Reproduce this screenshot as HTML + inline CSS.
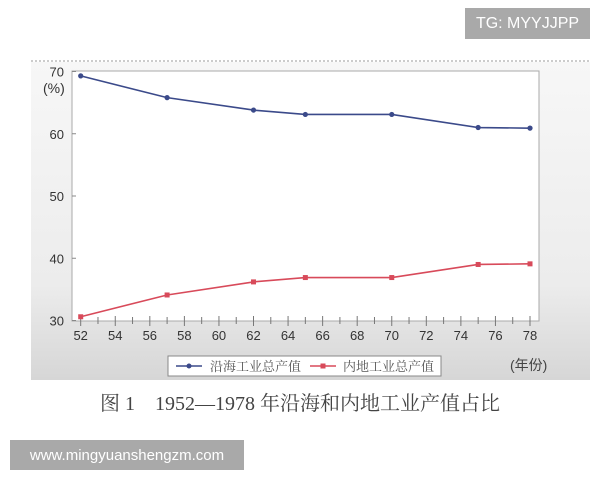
<!DOCTYPE html>
<html><head><meta charset="utf-8">
<style>
body{margin:0;width:600px;height:480px;background:#fff;position:relative;overflow:hidden;font-family:"Liberation Sans","Noto Sans CJK SC",sans-serif}
.wm{position:absolute;background:#a9a9a9;color:#fff;font-size:16px;display:flex;align-items:center;justify-content:center}
</style></head><body>
<div class="wm" style="left:465px;top:8px;width:125px;height:31px;">TG: MYYJJPP</div>
<svg width="600" height="480" style="position:absolute;left:0;top:0">
<defs><linearGradient id="bg" x1="0" y1="0" x2="0" y2="1"><stop offset="0" stop-color="#f7f7f7"/><stop offset="0.7" stop-color="#ececec"/><stop offset="1" stop-color="#d6d6d6"/></linearGradient></defs>
<rect x="31" y="62" width="559" height="318" fill="url(#bg)"/>
<line x1="31" y1="61" x2="590" y2="61" stroke="#999" stroke-dasharray="2,2"/>
<rect x="72" y="71" width="467" height="250" fill="#fff" stroke="#aaa"/>
<g id="axes"></g><g id="series"></g>
<g>
<rect x="168" y="356" width="273" height="20" fill="#fff" stroke="#888"/>
<line x1="176" y1="366" x2="202" y2="366" stroke="#3b4a8a" stroke-width="1.5"/><circle cx="189" cy="366" r="2.5" fill="#3b4a8a"/>
<text x="210" y="371" font-size="13" fill="#555" font-family="Liberation Serif,'Noto Serif CJK SC',serif">沿海工业总产值</text>
<line x1="310" y1="366" x2="336" y2="366" stroke="#d84a5a" stroke-width="1.5"/><rect x="320.5" y="363.5" width="5" height="5" fill="#d84a5a"/>
<text x="343" y="371" font-size="13" fill="#555" font-family="Liberation Serif,'Noto Serif CJK SC',serif">内地工业总产值</text>
</g>
<text x="510" y="370" font-size="14" fill="#444">(年份)</text>
<text x="43" y="93" font-size="14" fill="#333">(%)</text>
<text x="300" y="410" text-anchor="middle" font-size="20" fill="#444" font-family="Liberation Serif,'Noto Serif CJK SC',serif">图 1　1952—1978 年沿海和内地工业产值占比</text>
</svg>
<div class="wm" style="left:10px;top:440px;width:234px;height:30px;font-size:15px">www.mingyuanshengzm.com</div>
<script>
const years=[52,57,62,65,70,75,78];
const coastal=[69.3,65.8,63.8,63.1,63.1,61.0,60.9];
const inland=[30.6,34.1,36.2,36.9,36.9,39.0,39.1];
const yTicks=[30,40,50,60,70];
const xTicks=[52,54,56,58,60,62,64,66,68,70,72,74,76,78];
const NS="http://www.w3.org/2000/svg";
const X=v=>80.7+(v-52)*(530-80.7)/26;
const Y=v=>320.5-(v-30)*(320.5-71.5)/40;
function mk(t,a,p){const e=document.createElementNS(NS,t);for(const k in a)e.setAttribute(k,a[k]);p.appendChild(e);return e;}
const ax=document.getElementById('axes');
yTicks.forEach(v=>{
 const t=mk('text',{x:64,y:Y(v)+5,'text-anchor':'end','font-size':13,fill:'#333'},ax);t.textContent=v;
 
 
 mk('line',{x1:72,x2:76,y1:Y(v),y2:Y(v),stroke:'#888'},ax);
});
for(let yr=52;yr<=78;yr++){mk('line',{x1:X(yr),x2:X(yr),y1:yr%2?317:316,y2:yr%2?324:326,stroke:'#777'},ax);}
xTicks.forEach(v=>{
 const t=mk('text',{x:X(v),y:340,'text-anchor':'middle','font-size':13,fill:'#333'},ax);t.textContent=v;
 
 
});
const sg=document.getElementById('series');
function draw(vals,color,name,sq){
 const p=mk('polyline',{points:vals.map((v,i)=>X(years[i])+','+Y(v)).join(' '),fill:'none',stroke:color,'stroke-width':1.6},sg);
 
 
 vals.forEach((v,i)=>{
  const m=sq?mk('rect',{x:X(years[i])-2.5,y:Y(v)-2.5,width:5,height:5,fill:color},sg):mk('circle',{cx:X(years[i]),cy:Y(v),r:2.6,fill:color},sg);
  
  
 });
}
draw(coastal,'#3b4a8a','coastal',false);
draw(inland,'#d84a5a','inland',true);
</script>
</body></html>
